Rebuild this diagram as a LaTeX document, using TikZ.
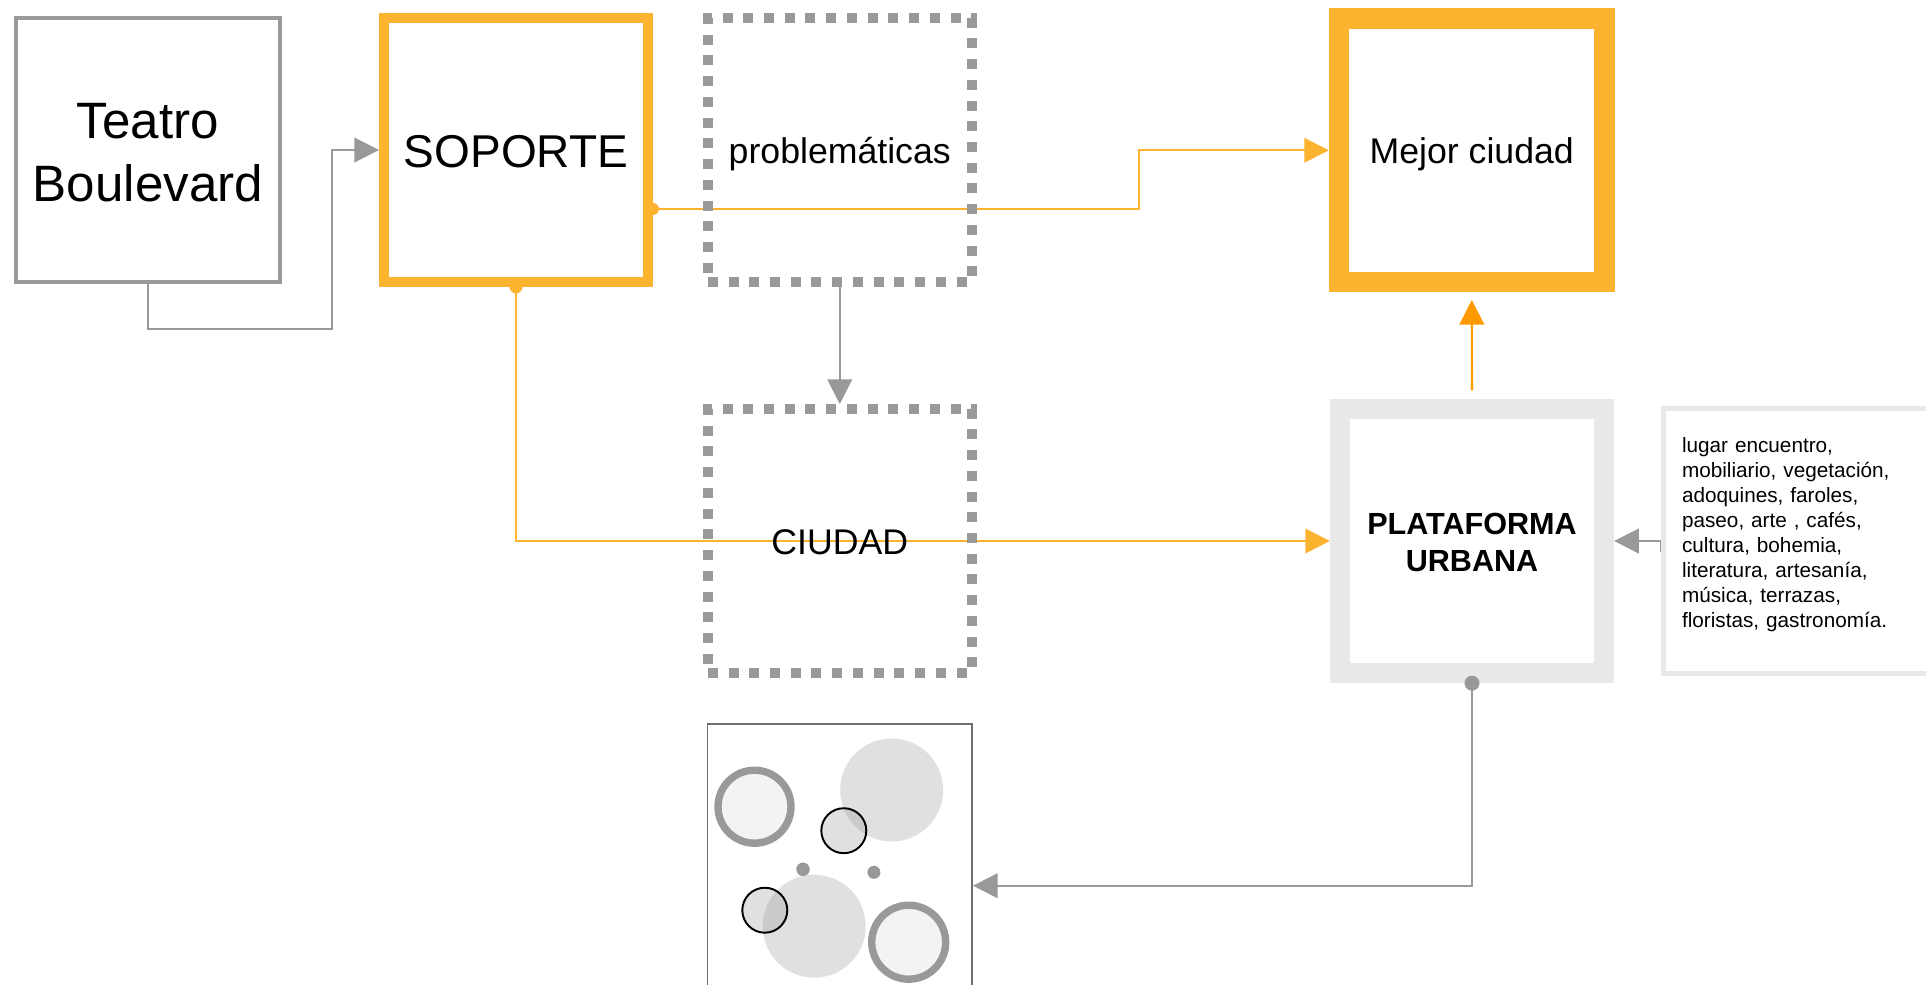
\documentclass[tikz,border=0pt]{standalone}
\usepackage{fontspec}
\setmainfont{Liberation Sans}
\usetikzlibrary{arrows.meta,backgrounds}
\definecolor{naranja}{RGB}{252,179,48}
\definecolor{naranjafuerte}{RGB}{255,153,0}
\definecolor{gris}{RGB}{153,153,153}
\definecolor{grisclaro}{RGB}{232,232,232}
\definecolor{grismedio}{RGB}{224,224,224}
\definecolor{grisfondo}{RGB}{243,243,243}
\definecolor{grismarco}{RGB}{110,110,110}

\begin{document}
\begin{tikzpicture}[x=0.02cm,y=-0.02cm,
  caja/.style={rectangle,minimum width=5.28cm,minimum height=5.28cm,inner sep=0pt,align=center},
  punteada/.style={draw=gris,line width=5.7pt,dash pattern=on 5.7pt off 6.1pt},
  texto medio/.style={font=\fontsize{20.3pt}{24pt}\selectfont,text height=15.1pt,text depth=0pt},
  conector gris/.style={draw=gris,line width=1.1pt,-{Triangle[length=14pt,width=14pt]}},
  conector naranja/.style={draw=naranja,line width=1.2pt,-{Triangle[length=14pt,width=14pt]}},
  anillo/.style={draw=gris,line width=4.2pt,fill=grisfondo},
  mancha/.style={fill=grismedio},
  lente/.style={draw=black,line width=1.1pt,fill=gris,fill opacity=0.3}]
\useasboundingbox (0,0) rectangle (1926,984);
\clip (0,0) rectangle (1926,984);

% cajas
\node[caja,draw=gris,line width=2.55pt,font=\fontsize{29.1pt}{35.7pt}\selectfont,text height=58.6pt,text depth=0pt] (teatro) at (148,150) {Teatro\\Boulevard};
\node[caja,draw=naranja,line width=5.67pt,font=\fontsize{26.2pt}{31pt}\selectfont,text height=20pt,text depth=0pt] (soporte) at (516,150) {SOPORTE};
\node[caja,punteada,texto medio] (problematicas) at (839.75,150) {problemáticas};
\node[caja,draw=naranja,line width=11.6pt,minimum width=5.31cm,minimum height=5.27cm,texto medio] (mejor) at (1471.75,150.3) {Mejor ciudad};
\node[caja,punteada,texto medio,text height=15.9pt] (ciudad) at (839.75,541) {CIUDAD};
\node[caja,draw=grisclaro,line width=11.6pt,font=\bfseries\fontsize{17.4pt}{21.4pt}\selectfont,text height=35.2pt,text depth=0pt] (plataforma) at (1472,541) {PLATAFORMA\\URBANA};
\node[caja,draw=grisclaro,line width=2.8pt,minimum width=5.3cm,minimum height=5.3cm,text width=4.56cm,align=left,font=\fontsize{11.8pt}{14.2pt}\selectfont,text height=10pt,text depth=110.2pt] (lista) at (1796,541) {lugar encuentro,\\mobiliario, vegetación,\\adoquines, faroles,\\paseo, arte , cafés,\\cultura, bohemia,\\literatura, artesanía,\\música, terrazas,\\floristas, gastronomía.};
\node[rectangle,draw=grismarco,line width=0.85pt,minimum width=5.3cm,minimum height=6.47cm,inner sep=0pt] (marco) at (839.75,885.7) {};

% conectores
\begin{pgfonlayer}{background}
\draw[conector gris] (teatro.south) |- (332,329) |- (soporte.west);
\draw[conector naranja] ([yshift=-1.18cm]soporte.east) -| ([xshift=-3.8cm]mejor.west) -- (mejor.west);
\draw[conector naranja] (soporte.south) |- (plataforma.west);
\draw[conector gris] (problematicas.south) -- (ciudad.north);
\draw[conector naranja,draw=naranjafuerte,shorten <=4.8pt,shorten >=4.4pt] (plataforma.north) -- (mejor.south);
\draw[conector gris] ([yshift=-0.22cm]lista.west) |- (plataforma.east);
\draw[conector gris] (plataforma.south) |- (marco.east);
\end{pgfonlayer}
\fill[naranja] ([yshift=-1.18cm]soporte.east) circle (0.12cm);
\fill[naranja] (soporte.south) circle (0.13cm);
\fill[gris] (plataforma.south) circle (0.15cm);

% figura del marco
\path[mancha] (891.7,790) circle (1.03cm);
\path[mancha] (814.2,926.2) circle (1.03cm);
\path[anillo] (754.5,806.7) circle (0.73cm);
\path[anillo] (908.7,942.2) circle (0.74cm);
\path[lente] (843.8,830.7) circle (0.45cm);
\path[lente] (764.8,910.2) circle (0.45cm);
\fill[gris] (803,869.3) circle (0.135cm);
\fill[gris] (873.9,872.3) circle (0.13cm);
\end{tikzpicture}
\end{document}
